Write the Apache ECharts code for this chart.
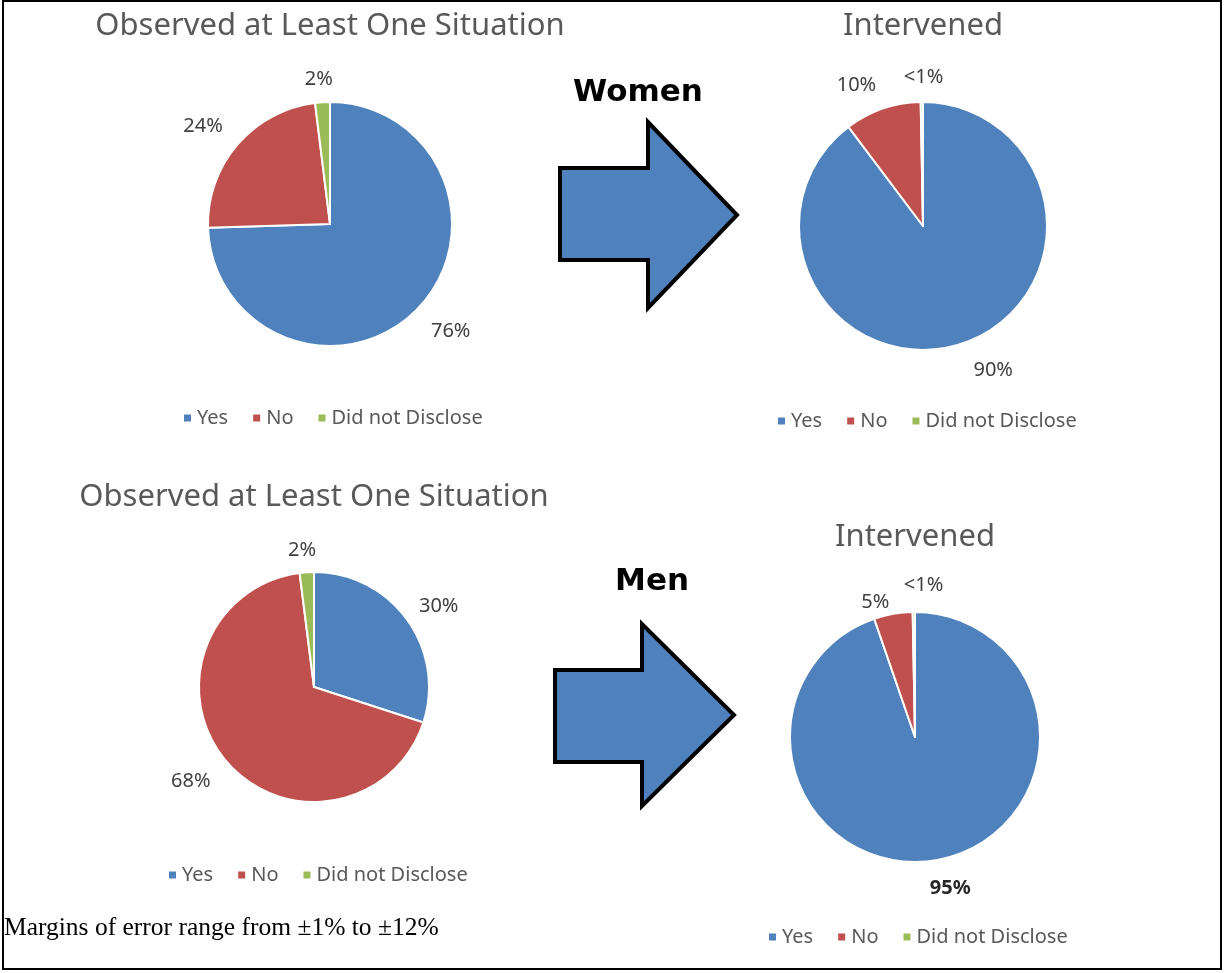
<!DOCTYPE html>
<html lang="en">
<head>
    <meta charset="UTF-8">
    <title>Observed vs Intervened</title>
    <script src="https://cdn.jsdelivr.net/npm/echarts@6/dist/echarts.min.js"></script>
    <style>
        body { margin: 0; background: #fff; }
        #chart { width: 1225px; height: 973px; }
    </style>
</head>
<body>
    <div id="chart"></div>
<script>
    // 数据
    var categories = ['Yes', 'No', 'Did not Disclose'];
    var colors = ['#4F81BD', '#C0504D', '#9BBB59'];

    var womenObserved = [76, 24, 2];
    var womenIntervened = [90, 10, 0.3];
    var menObserved = [30, 68, 2];
    var menIntervened = [95, 5, 0.3];

    var womenObservedText = ['76%', '24%', '2%'];
    var womenIntervenedText = ['90%', '10%', '<1%'];
    var menObservedText = ['30%', '68%', '2%'];
    var menIntervenedText = ['95%', '5%', '<1%'];

    var titleObserved = 'Observed at Least One Situation';
    var titleIntervened = 'Intervened';
    var note = 'Margins of error range from \u00b11% to \u00b112%';

    var sansFont = '"Noto Sans", "Open Sans", sans-serif';

    // 每个饼图的位置 (labelShift: 标签微调)
    var pies = [
        { values: womenObserved, texts: womenObservedText, center: [330, 224], r: 122,
            labelShift: [[13, 3], [-13, 0], [-2, 5]] },
        { values: womenIntervened, texts: womenIntervenedText, center: [923, 226], r: 124,
            labelShift: [[22, 0], [-17, 3], [2, 3]] },
        { values: menObserved, texts: menObservedText, center: [314, 687], r: 115,
            labelShift: [[9, 3], [-13, 3], [-3, 6]] },
        { values: menIntervened, texts: menIntervenedText, center: [915, 737], r: 125,
            labelShift: [[10, 0], [-13, 16], [10, 1]], bold: [0] }
    ];

    function makePie(p) {
        var data = [];
        for (var i = 0; i < categories.length; i++) {
            var item = { name: categories[i], value: p.values[i] };
            if (p.bold && p.bold.indexOf(i) >= 0) {
                item.label = { fontWeight: 'bold', color: '#262626' };
            }
            data.push(item);
        }
        return {
            type: 'pie',
            center: p.center,
            radius: p.r,
            startAngle: 90,
            clockwise: true,
            avoidLabelOverlap: false,
            silent: true,
            itemStyle: { borderColor: '#fff', borderWidth: 2 },
            label: {
                show: true,
                position: 'outside',
                color: '#404040',
                fontSize: 20,
                fontFamily: sansFont,
                distanceToLabelLine: 0,
                formatter: function (params) {
                    return p.texts[params.dataIndex];
                }
            },
            labelLine: { show: false, length: 28, length2: 0 },
            // 让标签以锚点为中心
            labelLayout: function (params) {
                var rect = params.labelRect;
                var mid = rect.x + rect.width / 2;
                var shift = p.labelShift[params.dataIndex];
                return {
                    dx: (mid > p.center[0] ? -rect.width / 2 : rect.width / 2) + shift[0],
                    dy: shift[1]
                };
            },
            emphasis: { disabled: true },
            data: data
        };
    }

    function makeLegend(left, top) {
        return {
            left: left,
            top: top,
            padding: 0,
            icon: 'rect',
            itemWidth: 9,
            itemHeight: 9,
            itemGap: 23,
            selectedMode: false,
            textStyle: { color: '#595959', fontSize: 20, fontFamily: sansFont },
            data: categories
        };
    }

    function makeText(x, y, text, style) {
        return {
            type: 'text',
            x: x,
            y: y,
            style: Object.assign({
                text: text,
                align: 'center',
                verticalAlign: 'middle',
                fill: '#595959',
                fontSize: 31,
                fontFamily: sansFont
            }, style || {})
        };
    }

    function makeArrow(left, top, bottom, headX, headTop, headBottom, tipX) {
        var midY = (headTop + headBottom) / 2;
        return {
            type: 'polygon',
            shape: {
                points: [[left, top], [headX, top], [headX, headTop], [tipX, midY],
                    [headX, headBottom], [headX, bottom], [left, bottom]]
            },
            style: { fill: '#4F81BD', stroke: '#000', lineWidth: 4, lineJoin: 'miter' }
        };
    }

    var myChart = echarts.init(document.getElementById('chart'));
    var option = {
        animation: false,
        color: colors,
        legend: [
            makeLegend(182, 408),
            makeLegend(776, 411),
            makeLegend(167, 865),
            makeLegend(767, 927)
        ],
        series: pies.map(makePie),
        graphic: [
            {
                type: 'rect',
                shape: { x: 3, y: 1, width: 1218, height: 968 },
                style: { fill: 'none', stroke: '#000', lineWidth: 2 }
            },
            makeText(330, 26, titleObserved),
            makeText(923, 26, titleIntervened),
            makeText(314, 497, titleObserved),
            makeText(915, 537, titleIntervened),
            makeText(638, 93, 'Women', { fill: '#000', fontWeight: 'bold', fontSize: 31, fontFamily: '"DejaVu Sans", sans-serif' }),
            makeText(652, 582, 'Men', { fill: '#000', fontWeight: 'bold', fontSize: 31, fontFamily: '"DejaVu Sans", sans-serif' }),
            makeArrow(560, 168, 260, 648, 122, 308, 737),
            makeArrow(555, 670, 762, 642, 624, 806, 734),
            makeText(4, 928, note, { align: 'left', fill: '#000', fontSize: 25.5, fontFamily: '"Liberation Serif", "Times New Roman", serif' })
        ]
    };
    myChart.setOption(option);
</script>
</body>
</html>
